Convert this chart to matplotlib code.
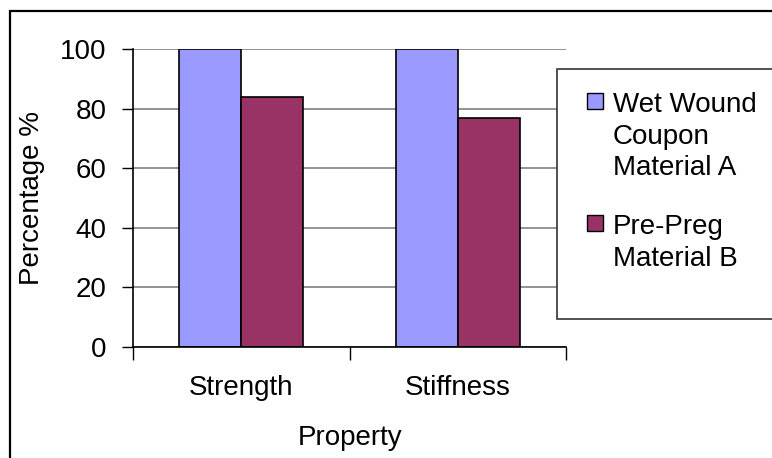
import matplotlib
matplotlib.use("Agg")
import matplotlib.pyplot as plt
from matplotlib.patches import Rectangle
import numpy as np

plt.rcParams['font.family'] = ['Liberation Sans', 'DejaVu Sans']

categories = ["Strength", "Stiffness"]
series_names = ["Wet Wound\nCoupon\nMaterial A", "Pre-Preg\nMaterial B"]
series_values = [[100, 100], [84, 77]]
series_colors = ["#9999FF", "#993366"]
y_ticks = [0, 20, 40, 60, 80, 100]

W, H = 772, 458
fig = plt.figure(figsize=(W / 100, H / 100), dpi=100)

def fx(px):
    return px / W

def fy(py):
    return (H - py) / H

ax_l, ax_r, ax_t, ax_b = 133, 566, 49, 347
ax = fig.add_axes([fx(ax_l), fy(ax_b), fx(ax_r - ax_l), (ax_b - ax_t) / H])

fs = 20
x = np.arange(len(categories))
w = 0.286
offsets = [-w / 2, w / 2]
for vals, col, off, name in zip(series_values, series_colors, offsets, series_names):
    ax.bar(x + off, vals, width=w, color=col, edgecolor="black", linewidth=1.2, zorder=3)

ax.set_xlim(-0.5, len(categories) - 0.5)
ax.set_ylim(0, 100)
ax.set_yticks(y_ticks)
ax.set_yticklabels([str(v) for v in y_ticks], fontsize=fs)
ax.yaxis.grid(True, color="#808080", linewidth=1.2, zorder=0)
ax.tick_params(axis="y", length=8, width=1, pad=11, direction="out")

ax.set_xticks(np.arange(len(categories) + 1) - 0.5)
ax.set_xticklabels([])
ax.tick_params(axis="x", which="major", length=9, width=1, direction="out")
ax.set_xticks(x, minor=True)
ax.set_xticklabels(categories, minor=True, fontsize=fs)
ax.tick_params(axis="x", which="minor", length=0, pad=20)

for s in ["top", "right"]:
    ax.spines[s].set_visible(False)
for s in ["left", "bottom"]:
    ax.spines[s].set_color("black")
    ax.spines[s].set_linewidth(1.2)
    ax.spines[s].set_zorder(4)

ax.set_ylabel("Percentage %", fontsize=fs, labelpad=11)
fig.text(fx(350), fy(445), "Property", fontsize=fs, ha="center", va="baseline")

# Figure border
fig.add_artist(Rectangle((fx(10), -0.2), 2, fy(11) + 0.2, transform=fig.transFigure,
                         fill=False, edgecolor="black", linewidth=1.6, zorder=1))

# Legend box
lg_l, lg_t, lg_b = 556.5, 69, 318.5
fig.add_artist(Rectangle((fx(lg_l), fy(lg_b)), 1, (lg_b - lg_t) / H, transform=fig.transFigure,
                         facecolor="white", edgecolor="#333333", linewidth=1.2, zorder=10))
entry_tops = [92, 214]
line_step = 31.5
for name, col, top in zip(series_names, series_colors, entry_tops):
    fig.add_artist(Rectangle((fx(587), fy(top + 17)), fx(16) - fx(0), 16 / H,
                             transform=fig.transFigure, facecolor=col,
                             edgecolor="black", linewidth=1, zorder=11))
    for i, line in enumerate(name.split("\n")):
        # baseline = cap top + cap height (~0.716 * 27.8px)
        fig.text(fx(613), fy(top + 20 + i * line_step), line, fontsize=fs,
                 ha="left", va="baseline", zorder=12)

fig.savefig("out.png", dpi=100)
